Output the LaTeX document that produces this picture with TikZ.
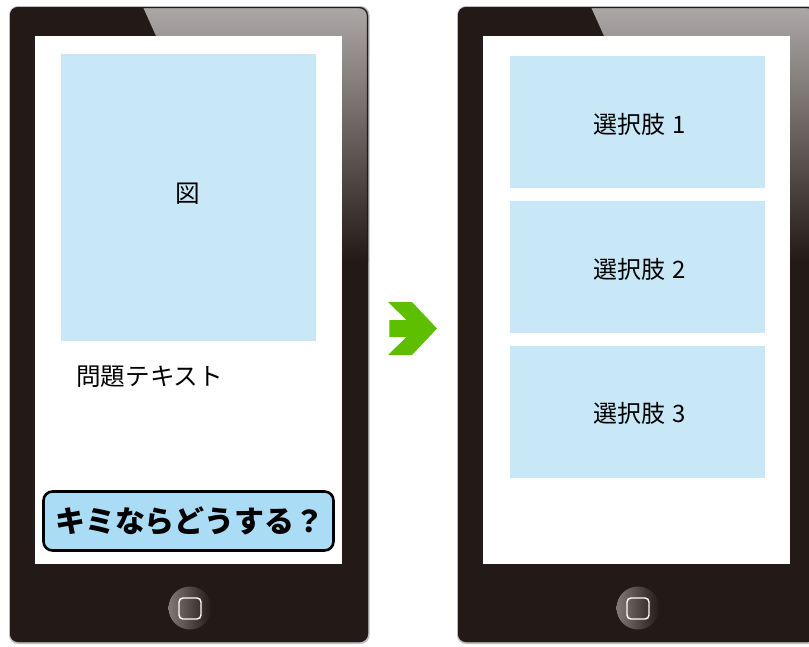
\documentclass[tikz,border=0pt]{standalone}
\usepackage{fontspec}
\newfontfamily\cjk{Noto Sans CJK JP}
\definecolor{phonebody}{RGB}{35,25,22}
\definecolor{bezel}{RGB}{172,168,167}
\definecolor{shadowgray}{RGB}{190,190,190}
\definecolor{panel}{RGB}{200,232,248}
\definecolor{badgeblue}{RGB}{170,220,245}
\definecolor{arrowgreen}{RGB}{94,190,0}
\definecolor{btngray}{RGB}{128,121,119}
\tikzset{
  paneltext/.style={font=\cjk\fontsize{24.6}{28}\selectfont, text=black, inner sep=0pt},
  choicetext/.style={font=\cjk\fontsize{24}{28}\selectfont, text=black, inner sep=0pt},
  badgebox/.style={draw=black, line width=2.6pt, rounded corners=9pt, fill=badgeblue,
    minimum width=290pt, minimum height=59pt, inner sep=0pt},
  badgetext/.style={inner sep=0pt, text=black, font=\cjk\bfseries\fontsize{30}{34}\selectfont}
}
\newcommand\drawphone{%
  \fill[shadowgray, rounded corners=9pt] (9,6) rectangle (369.5,644);
  \fill[phonebody, rounded corners=8pt] (10,7) rectangle (368,642);
  \begin{scope}
    \clip[rounded corners=8pt] (10,7) rectangle (368,642);
    \shade[top color=bezel, bottom color=phonebody]
      (143,7) -- (372,7) -- (372,262) -- (342,262) -- (342,36) -- (156,36) -- cycle;
  \end{scope}
  \draw[phonebody, line width=1.2pt, rounded corners=8pt] (10.6,7.6) rectangle (367.4,641.4);
  \fill[white] (35,36) rectangle (342,564);
  \shade[left color=btngray, right color=phonebody] (190,608) circle (21.5);
  \draw[white, line width=1.4pt, rounded corners=4pt] (179,598) rectangle (201,619);
}
\begin{document}
\begin{tikzpicture}[x=1pt,y=-1pt]
\useasboundingbox (0,0) rectangle (809,646);
\fill[white] (0,0) rectangle (809,646);
% left phone
\begin{scope}
  \drawphone
\end{scope}
% right phone
\begin{scope}[shift={(448,0)}]
  \drawphone
\end{scope}
% left screen content
\fill[panel] (61,54) rectangle (316,341);
\node[paneltext] (fig) at (188,194) {図};
\node[paneltext, anchor=west] (qtext) at (76,377) {問題テキスト};
\node[badgebox] (badge) at (188.5,521) {};
\node[badgetext] (badgelabel) at (190,521) {キミならどうする？};
% arrow
\fill[arrowgreen] (388,302) -- (412,302) -- (437,328.5) -- (412,355) -- (388,355)
  -- (406.5,337) -- (389.3,337) -- (389.3,320) -- (406.5,320) -- cycle;
% right screen content
\fill[panel] (510,56) rectangle (765,188);
\fill[panel] (510,201) rectangle (765,333);
\fill[panel] (510,346) rectangle (765,478);
\node[choicetext] (c1) at (640,124) {選択肢\hspace{0.3em}1};
\node[choicetext] (c2) at (640,269) {選択肢\hspace{0.3em}2};
\node[choicetext] (c3) at (640,413) {選択肢\hspace{0.3em}3};
\end{tikzpicture}
\end{document}
